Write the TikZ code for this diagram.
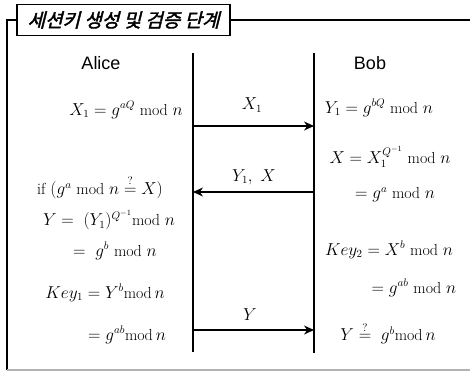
\documentclass[tikz,border=0pt]{standalone}
\usepackage{amsmath}
\usepackage{fontspec}
\usepackage{tikz}
\usetikzlibrary{arrows.meta,positioning}
\newfontfamily\krfont[FakeSlant=0.25,FakeBold=2]{Noto Sans CJK KR}
\newfontfamily\namefont{Liberation Sans}

\begin{document}
\begin{tikzpicture}[x=1pt, y=-1pt,
  eq/.style={font=\fontsize{16}{19}\selectfont, inner sep=0pt},
  who/.style={font=\namefont\fontsize{18}{21}\selectfont, inner sep=0pt},
  lifeline/.style={line width=1.4pt},
  msg/.style={line width=1.1pt, -{Stealth[length=10pt,width=9pt]}},
  frame/.style={line width=1.2pt}]
\useasboundingbox (0,0) rectangle (470,372);

% title and frame
\node[draw, line width=1.4pt, minimum width=213pt, minimum height=31pt, inner sep=0pt,
      font=\krfont\fontsize{19}{22}\selectfont] (title) at (123.5,20) {세션키 생성 및 검증 단계};
\coordinate (corner) at (7,20);
\coordinate (foot) at (7,370);
\coordinate (rim) at (470,20);
\coordinate (floor) at (470,370);
\draw[frame] (title.west) -- (corner) -- (foot);
\draw[frame] (title.east) -- (rim);
\draw[frame, gray!60] (foot) -- (floor);

% parties
\node[who] (alice) at (101,63) {Alice};
\node[who] (bob) at (370,63) {Bob};
\coordinate (atop) at (193,53);
\coordinate (abot) at (193,352);
\coordinate (btop) at (314,53);
\coordinate (bbot) at (314,353);
\draw[lifeline] (atop) -- (abot);
\draw[lifeline] (btop) -- (bbot);

% messages
\coordinate (a1) at (193,126);
\coordinate (b1) at (314,126);
\coordinate (a2) at (193,192);
\coordinate (b2) at (314,192);
\coordinate (a3) at (193,330);
\coordinate (b3) at (314,330);
\draw[msg] (a1) -- (b1);
\draw[msg] (b2) -- (a2);
\draw[msg] (a3) -- (b3);
\node[eq] (m1) at (252,105) {$X_1$};
\node[eq] (m2) at (254,177) {$Y_1,\ X$};
\node[eq] (m3) at (250,315) {$Y$};

% Alice side
\node[eq] (x1) at (126,110) {$X_1 = g^{aQ}\ \mathrm{mod}\ n$};
\node[eq] (chk) at (100,187) {if $(g^{a}\ \mathrm{mod}\ n \stackrel{?}{=} X)$};
\node[eq] (ya) at (109,220) {$Y = \ (Y_1)^{Q^{-1}}\mathrm{mod}\ n$};
\node[eq] (yb) at (115,251) {$= \ g^{b}\ \mathrm{mod}\ n$};
\node[eq] (k1) at (105,293) {$Key_1 = Y^{b}\mathrm{mod}\,n$};
\node[eq] (k1b) at (127,335) {$= g^{ab}\mathrm{mod}\,n$};

% Bob side
\node[eq] (y1) at (379,108) {$Y_1 = g^{bQ}\ \mathrm{mod}\ n$};
\node[eq] (xb) at (390,157) {$X = X_1^{Q^{-1}}\ \mathrm{mod}\ n$};
\node[eq] (xg) at (395,195) {$= g^{a}\ \mathrm{mod}\ n$};
\node[eq] (k2) at (389,250) {$Key_2 = X^{b}\ \mathrm{mod}\ n$};
\node[eq] (k2b) at (414,288) {$= g^{ab}\ \mathrm{mod}\ n$};
\node[eq] (yc) at (388,333) {$Y \stackrel{?}{=}\ g^{b}\mathrm{mod}\,n$};
\end{tikzpicture}
\end{document}
